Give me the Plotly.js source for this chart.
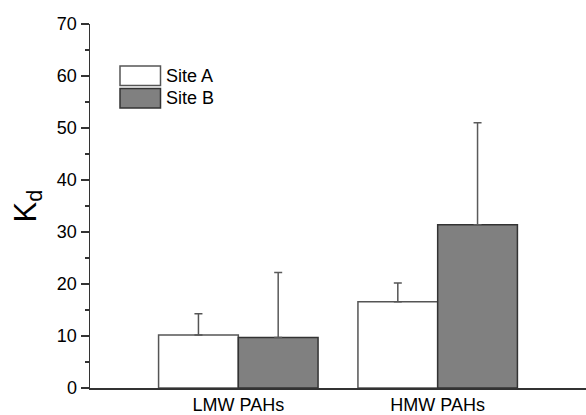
<!DOCTYPE html>
<html>
<head>
<meta charset="utf-8">
<script src="https://cdn.plot.ly/plotly-3.0.1.min.js"></script>
<style>html,body{margin:0;padding:0;background:#fff;}#chart{width:586px;height:415px;}</style>
</head>
<body>
<div id="chart"></div>
<script>
var categories = ["LMW PAHs", "HMW PAHs"];
var siteA = [10.2, 16.6];
var siteAErr = [4.1, 3.6];
var siteB = [9.7, 31.4];
var siteBErr = [12.5, 19.6];
var yTicks = [0, 10, 20, 30, 40, 50, 60, 70];

var font = "Liberation Sans, Arial, sans-serif";

var traceA = {
  type: "bar", name: "Site A", x: categories, y: siteA,
  marker: {color: "#ffffff", line: {color: "#555555", width: 1.5}},
  error_y: {type: "data", symmetric: false, array: siteAErr, arrayminus: [0, 0], color: "#555555", thickness: 1.5, width: 4},
  showlegend: false
};
var traceB = {
  type: "bar", name: "Site B", x: categories, y: siteB,
  marker: {color: "#808080", line: {color: "#333333", width: 1.5}},
  error_y: {type: "data", symmetric: false, array: siteBErr, arrayminus: [0, 0], color: "#5a5a5a", thickness: 1.5, width: 4},
  showlegend: false
};

var layout = {
  width: 586, height: 415,
  margin: {l: 90, r: 0, t: 24, b: 27},
  paper_bgcolor: "#ffffff", plot_bgcolor: "#ffffff",
  barmode: "group", bargap: 0.2, bargroupgap: 0,
  font: {family: font, color: "#000000"},
  xaxis: {
    range: [-0.744, 1.744], showline: true, linecolor: "#333333", linewidth: 1.5,
    ticks: "", showgrid: false, zeroline: false, fixedrange: true,
    tickfont: {size: 18, family: font, color: "#000"}
  },
  yaxis: {
    range: [0, 70], tickvals: yTicks, showline: true, linecolor: "#333333", linewidth: 1.5,
    ticks: "outside", ticklen: 8, tickwidth: 1.5, tickcolor: "#333333",
    minor: {dtick: 5, ticks: "outside", ticklen: 4, tickwidth: 1.5, tickcolor: "#333333", showgrid: false},
    showgrid: false, zeroline: false,
    tickfont: {size: 18, family: font, color: "#000"},
    title: {text: "K<sub>d</sub>", font: {size: 31, family: font, color: "#000"}, standoff: 11}
  },
  shapes: [
    {type: "rect", xref: "paper", yref: "paper", x0: 30/496, x1: 70.5/496, y0: (388-85.5)/364, y1: (388-66)/364,
     fillcolor: "#ffffff", line: {color: "#555555", width: 1.5}},
    {type: "rect", xref: "paper", yref: "paper", x0: 30/496, x1: 70.5/496, y0: (388-108)/364, y1: (388-88.5)/364,
     fillcolor: "#808080", line: {color: "#333333", width: 1.5}}
  ],
  annotations: [
    {xref: "paper", yref: "paper", x: 74/496, y: (388-76)/364, xanchor: "left", yanchor: "middle", showarrow: false,
     text: "Site A", font: {size: 18, family: font, color: "#000"}},
    {xref: "paper", yref: "paper", x: 74/496, y: (388-98)/364, xanchor: "left", yanchor: "middle", showarrow: false,
     text: "Site B", font: {size: 18, family: font, color: "#000"}}
  ]
};

Plotly.newPlot("chart", [traceA, traceB], layout, {displayModeBar: false, staticPlot: true});
</script>
</body>
</html>
